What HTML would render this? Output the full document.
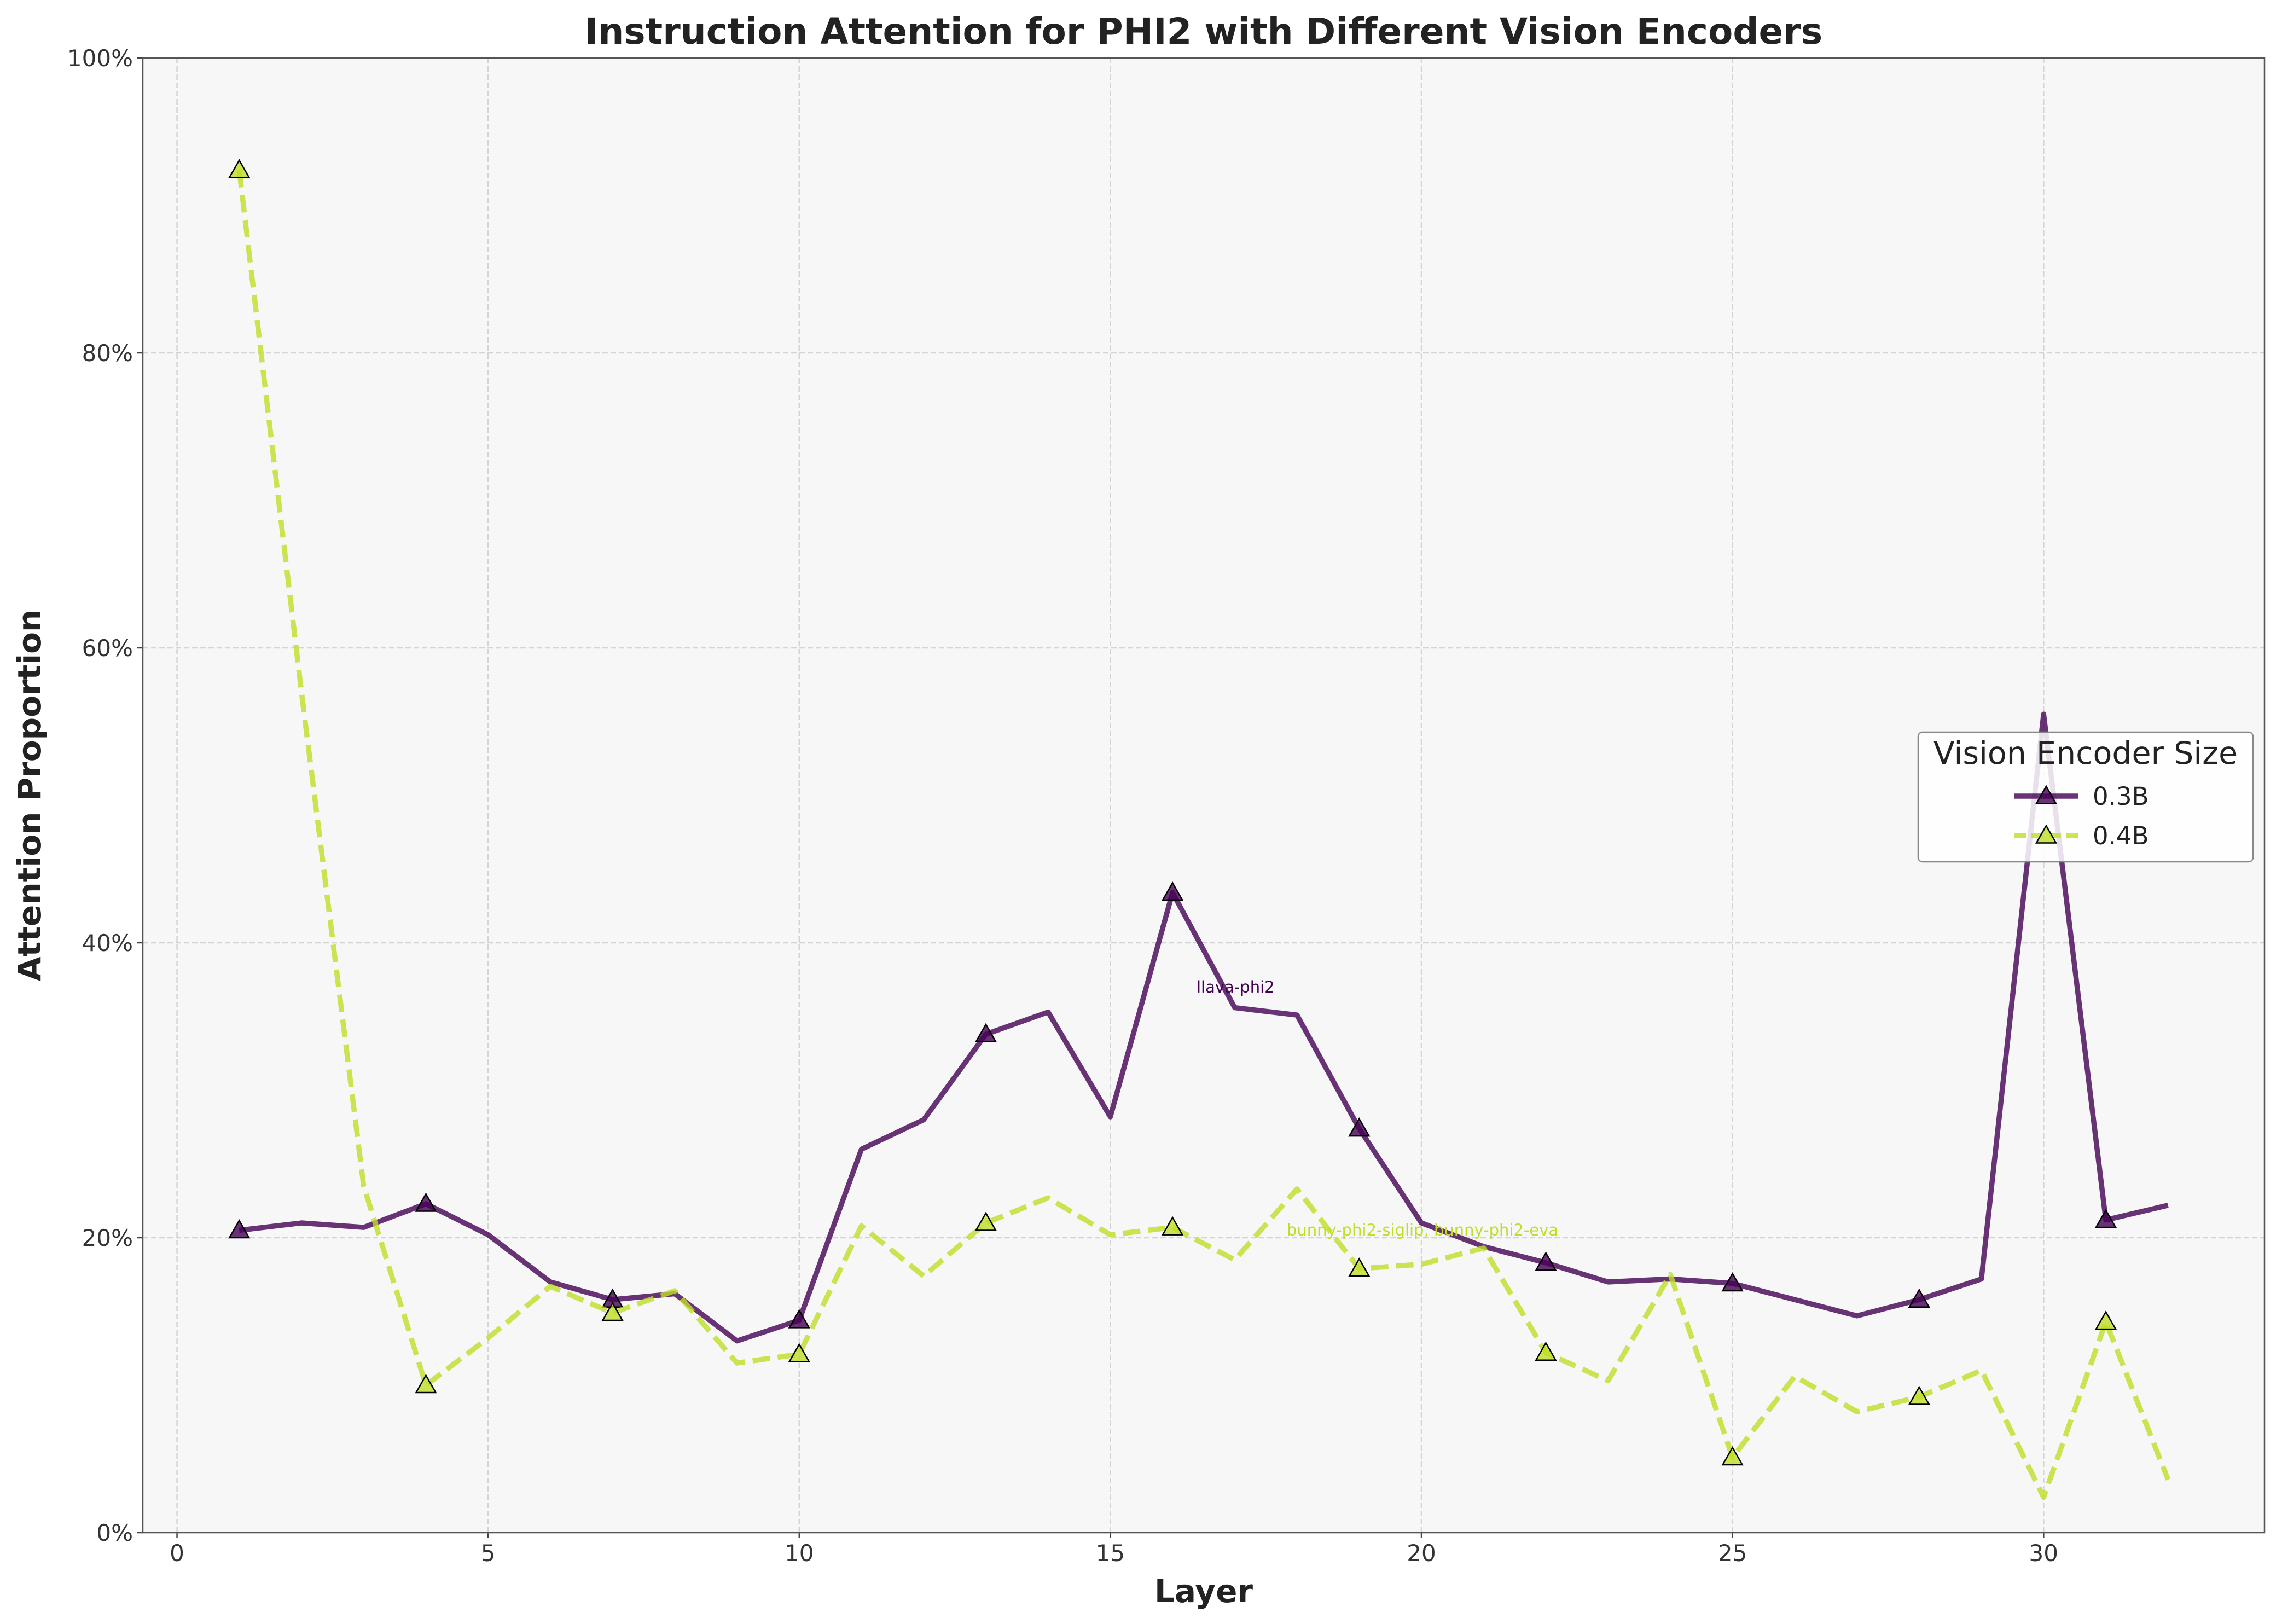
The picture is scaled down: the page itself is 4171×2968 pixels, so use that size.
<!DOCTYPE html>
<html><head><meta charset="utf-8">
<style>
html,body{margin:0;padding:0;background:#fff;}
svg{display:block;font-family:"DejaVu Sans","Liberation Sans",sans-serif;}
</style></head>
<body>
<svg id="chart" width="4171" height="2968" viewBox="0 0 4171 2968" xmlns="http://www.w3.org/2000/svg"></svg>
<script>
const layers = [1,2,3,4,5,6,7,8,9,10,11,12,13,14,15,16,17,18,19,20,21,22,23,24,25,26,27,28,29,30,31,32];
const series03 = [20.5,21,20.7,22.3,20.2,17,15.8,16.2,13,14.4,26,28,33.8,35.3,28.2,43.4,35.6,35.1,27.4,21,19.4,18.3,17,17.2,16.9,15.8,14.7,15.8,17.2,55.5,21.2,22.2];
const series04 = [92.4,57,23.5,10,13.2,16.7,14.9,16.4,11.5,12.1,20.8,17.4,21,22.7,20.2,20.7,18.5,23.3,17.9,18.2,19.3,12.2,10.3,17.5,5.1,10.6,8.2,9.2,11,2.4,14.3,3.6];
const xTicks = [0,5,10,15,20,25,30];
const yTicks = [0,20,40,60,80,100];
const seriesNames = ["0.3B","0.4B"];

const svg = document.getElementById('chart');
const NS = 'http://www.w3.org/2000/svg';
const L=261,R=4139,T=106,B=2801;
const xMin=-0.55,xMax=33.55;
const px = x => L + (x - xMin)/(xMax - xMin)*(R-L);
const py = v => B - v/100*(B-T);
function mk(tag, attrs, parent){const e=document.createElementNS(NS,tag);for(const k in attrs)e.setAttribute(k,attrs[k]);(parent||svg).appendChild(e);return e;}

const bg = mk('rect',{x:L,y:T,width:R-L,height:B-T,fill:'#f7f7f7'});



xTicks.forEach(t=>{
  const g=mk('line',{x1:px(t),x2:px(t),y1:T,y2:B,stroke:'#d4d4d4','stroke-width':2.5,'stroke-dasharray':'10,5'});
  
  
  const tk=mk('line',{x1:px(t),x2:px(t),y1:B,y2:B+10,stroke:'#444','stroke-width':2.5});
  
  
  const tx=mk('text',{x:px(t),y:B+52,'text-anchor':'middle','font-size':42,fill:'#333'});
  tx.textContent=t;
  
  
});
yTicks.forEach(t=>{
  const g=mk('line',{x1:L,x2:R,y1:py(t),y2:py(t),stroke:'#d4d4d4','stroke-width':2.5,'stroke-dasharray':'10,5'});
  
  
  const tk=mk('line',{x1:L-10,x2:L,y1:py(t),y2:py(t),stroke:'#444','stroke-width':2.5});
  
  
  const tx=mk('text',{x:L-18,y:py(t)+15,'text-anchor':'end','font-size':42,fill:'#333'});
  tx.textContent=t+'%';
  
  
});

function drawSeries(vals,color,dash,name){
  const pts=layers.map((l,i)=>px(l)+','+py(vals[i])).join(' ');
  const a={points:pts,fill:'none',stroke:color,'stroke-width':9.5,'stroke-opacity':0.8,'stroke-linejoin':'round'};
  if(dash)a['stroke-dasharray']=dash;
  const pl=mk('polyline',a);
  
  
  layers.forEach((l,i)=>{
    if(i%3!==0)return;
    const x=px(l),y=py(vals[i]),s=18;
    const m=mk('polygon',{points:`${x},${y-s} ${x-s},${y+s*0.75} ${x+s},${y+s*0.75}`,fill:color,'fill-opacity':0.8,stroke:'#000','stroke-width':2.5});
    
    
  });
}
drawSeries(series03,'#440154',null,'series-0.3b');
drawSeries(series04,'#bddf26','32,14','series-0.4b');

const a1=mk('text',{x:2187,y:1814,'font-size':29,fill:'#440154'});a1.textContent='llava-phi2';


const a2=mk('text',{x:2352,y:2258,'font-size':29,fill:'#bddf26'});a2.textContent='bunny-phi2-siglip, bunny-phi2-eva';



const frame=mk('rect',{x:L,y:T,width:R-L,height:B-T,fill:'none',stroke:'#555','stroke-width':2.5});



const title=mk('text',{x:(L+R)/2,y:80,'text-anchor':'middle','font-size':66,'font-weight':'bold',fill:'#222'});
title.textContent='Instruction Attention for PHI2 with Different Vision Encoders';


const xl=mk('text',{x:(L+R)/2,y:2928,'text-anchor':'middle','font-size':58,'font-weight':'bold',fill:'#222'});
xl.textContent='Layer';


const yl=mk('text',{x:0,y:0,'text-anchor':'middle','font-size':58,'font-weight':'bold',fill:'#222',transform:`translate(74,${(T+B)/2}) rotate(-90)`});
yl.textContent='Attention Proportion';



const lg=mk('g',{});


mk('rect',{x:3506,y:1338,width:612,height:237,rx:8,fill:'#fff','fill-opacity':0.85,stroke:'#888','stroke-width':2.5},lg);
const lt=mk('text',{x:3812,y:1396,'text-anchor':'middle','font-size':57,fill:'#222'},lg);lt.textContent='Vision Encoder Size';


[['#440154',null,1455],['#bddf26','22,10',1527]].forEach((e,i)=>{
  const a={x1:3681,x2:3798,y1:e[2],y2:e[2],stroke:e[0],'stroke-width':9.5,'stroke-opacity':0.8};
  if(e[1])a['stroke-dasharray']=e[1];
  mk('line',a,lg);
  const x=3740,y=e[2],s=18;
  mk('polygon',{points:`${x},${y-s} ${x-s},${y+s*0.75} ${x+s},${y+s*0.75}`,fill:e[0],'fill-opacity':0.8,stroke:'#000','stroke-width':2.5},lg);
  const t=mk('text',{x:3825,y:e[2]+16,'font-size':45,fill:'#222'},lg);t.textContent=seriesNames[i];
  
  
});
</script>
</body></html>
